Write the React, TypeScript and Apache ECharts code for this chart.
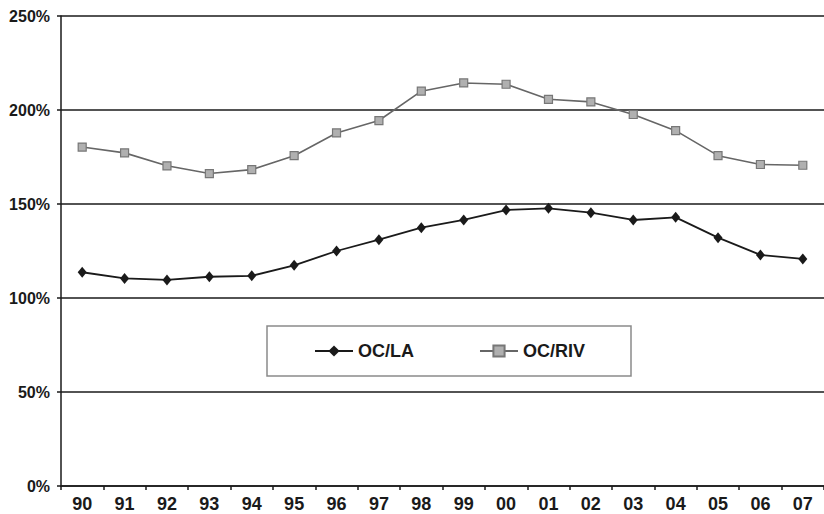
import React, { useEffect, useRef } from "react";
import * as echarts from "echarts";

const years = ["90", "91", "92", "93", "94", "95", "96", "97", "98", "99", "00", "01", "02", "03", "04", "05", "06", "07"];
const ocLa = [113.7, 110.4, 109.6, 111.3, 111.8, 117.4, 125.0, 131.0, 137.4, 141.5, 146.8, 147.7, 145.4, 141.5, 142.9, 132.1, 122.9, 120.8];
const ocRiv = [180.3, 177.2, 170.3, 166.2, 168.3, 175.7, 187.8, 194.4, 210.0, 214.4, 213.7, 205.7, 204.3, 197.6, 189.0, 175.7, 171.0, 170.6];
const yTicks = { min: 0, max: 250, interval: 50 };

const font = "'Liberation Sans', Arial, sans-serif";

export default function App() {
  const ref = useRef<HTMLDivElement | null>(null);

  useEffect(() => {
    document.body.style.margin = "0";
    const chart = echarts.init(ref.current!, undefined, { renderer: "svg" });
    chart.setOption({
      animation: false,
      backgroundColor: "#ffffff",
      textStyle: { fontFamily: font },
      grid: { left: 61, top: 16, width: 768, bottom: 28, containLabel: false },
      legend: {
        left: 267,
        top: 326,
        orient: "horizontal",
        padding: [16, 46, 16, 47],
        itemGap: 65,
        itemWidth: 38,
        itemHeight: 14,
        borderColor: "#8a8a8a",
        borderWidth: 1.5,
        backgroundColor: "#ffffff",
        textStyle: { fontFamily: font, fontWeight: "bold", fontSize: 18, color: "#1a1a1a", padding: [2, 0, 0, 0] },
        data: ["OC/LA", "OC/RIV"],
      },
      xAxis: {
        type: "category",
        data: years,
        boundaryGap: true,
        axisLine: { lineStyle: { color: "#1a1a1a", width: 1.5 } },
        axisTick: { show: true, alignWithLabel: false, length: 4, lineStyle: { color: "#1a1a1a", width: 1.5 } },
        axisLabel: { color: "#1a1a1a", fontWeight: "bold", fontSize: 18, margin: 9, fontFamily: font },
        splitLine: { show: false },
      },
      yAxis: {
        type: "value",
        min: yTicks.min,
        max: yTicks.max,
        interval: yTicks.interval,
        axisLine: { show: true, lineStyle: { color: "#1a1a1a", width: 1.5 } },
        axisTick: { show: true, length: 4, lineStyle: { color: "#1a1a1a", width: 1.5 } },
        axisLabel: { color: "#1a1a1a", fontWeight: "bold", fontSize: 16, margin: 11, formatter: "{value}%", fontFamily: font },
        splitLine: { show: true, lineStyle: { color: "#1a1a1a", width: 1.5 } },
      },
      series: [
        {
          name: "OC/LA",
          type: "line",
          data: ocLa,
          symbol: "diamond",
          symbolSize: [9, 11],
          itemStyle: { color: "#1a1a1a" },
          lineStyle: { color: "#1a1a1a", width: 1.8 },
        },
        {
          name: "OC/RIV",
          type: "line",
          data: ocRiv,
          symbol: "rect",
          symbolSize: 8,
          itemStyle: { color: "#b0b0b0", borderColor: "#777777", borderWidth: 1.2 },
          lineStyle: { color: "#666666", width: 1.6 },
        },
      ],
    });
    return () => chart.dispose();
  }, []);

  return <div ref={ref} style={{ width: 824, height: 514 }} />;
}
